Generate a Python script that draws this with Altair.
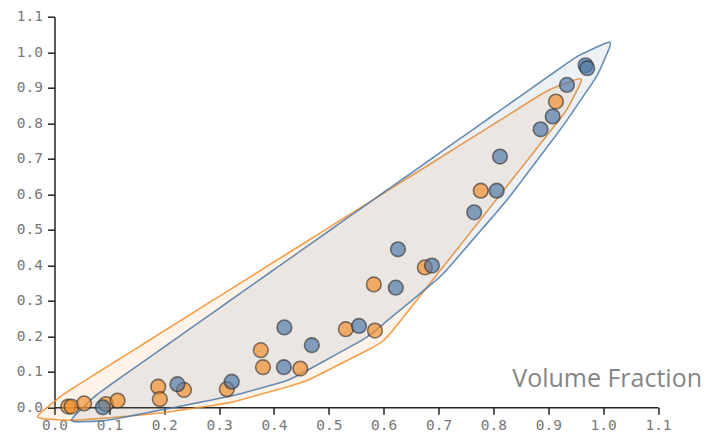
import math
import altair as alt
import pandas as pd

# ---- data ----
orange_x = [0.025, 0.031, 0.054, 0.094, 0.115, 0.189, 0.192, 0.236, 0.314,
            0.376, 0.380, 0.448, 0.531, 0.584, 0.582, 0.675, 0.777, 0.914]
orange_y = [0.002, 0.002, 0.011, 0.009, 0.019, 0.058, 0.023, 0.049, 0.051,
            0.161, 0.113, 0.109, 0.220, 0.216, 0.346, 0.394, 0.610, 0.861]

blue_x = [0.088, 0.224, 0.323, 0.419, 0.418, 0.469, 0.555, 0.622, 0.626,
          0.688, 0.765, 0.806, 0.812, 0.886, 0.908, 0.934, 0.968, 0.971]
blue_y = [0.000, 0.065, 0.072, 0.225, 0.113, 0.175, 0.229, 0.337, 0.445,
          0.399, 0.549, 0.610, 0.706, 0.783, 0.819, 0.908, 0.963, 0.955]

tick_values = [0.0, 0.1, 0.2, 0.3, 0.4, 0.5, 0.6, 0.7, 0.8, 0.9, 1.0, 1.1]

ORANGE = "#f28e2b"
BLUE = "#4e79a7"

W, H = 603.5, 390.6
KX, KY = W / 1.1, H / 1.1   # pixels per data unit
PAD = 14.0                  # outward offset of the hull outline, px
TIP = 2.7 * PAD             # longest reach of a sharp corner, px
MIN_GAP = 6.0               # hull vertices closer than this are merged, px
SEG = 18.0                  # outline edges are split into pieces of this size


def _unit(vx, vy):
    L = math.hypot(vx, vy)
    return (vx / L, vy / L)


def convex_hull_px(xs, ys):
    pts = sorted(set((x * KX, y * KY) for x, y in zip(xs, ys)))

    def cross(o, a, b):
        return (a[0] - o[0]) * (b[1] - o[1]) - (a[1] - o[1]) * (b[0] - o[0])

    lower = []
    for p in pts:
        while len(lower) >= 2 and cross(lower[-2], lower[-1], p) <= 0:
            lower.pop()
        lower.append(p)
    upper = []
    for p in reversed(pts):
        while len(upper) >= 2 and cross(upper[-2], upper[-1], p) <= 0:
            upper.pop()
        upper.append(p)
    hull = lower[:-1] + upper[:-1]
    merged = []
    for p in hull:
        if merged and math.dist(p, merged[-1]) < MIN_GAP:
            q = merged.pop()
            p = ((p[0] + q[0]) / 2, (p[1] + q[1]) / 2)
        merged.append(p)
    if len(merged) > 2 and math.dist(merged[0], merged[-1]) < MIN_GAP:
        q = merged.pop()
        merged[0] = ((merged[0][0] + q[0]) / 2, (merged[0][1] + q[1]) / 2)
    return merged


def outline(xs, ys):
    h = convex_hull_px(xs, ys)
    n = len(h)
    ring = []
    for i in range(n):
        p0, p1, p2 = h[i - 1], h[i], h[(i + 1) % n]
        ea = _unit(p1[0] - p0[0], p1[1] - p0[1])
        eb = _unit(p2[0] - p1[0], p2[1] - p1[1])
        na = (ea[1], -ea[0])
        nb = (eb[1], -eb[0])
        u = (-ea[0], -ea[1])
        v = eb
        cos_t = max(-1.0, min(1.0, u[0] * v[0] + u[1] * v[1]))
        s = math.sin(math.acos(cos_t) / 2)
        bis = _unit(-(u[0] + v[0]), -(u[1] + v[1]))
        if s > 1e-6 and PAD / s <= TIP:
            r = PAD / s
            ring.append((p1[0] + bis[0] * r, p1[1] + bis[1] * r))
        else:
            ring.append((p1[0] + na[0] * PAD, p1[1] + na[1] * PAD))
            ring.append((p1[0] + bis[0] * TIP, p1[1] + bis[1] * TIP))
            ring.append((p1[0] + nb[0] * PAD, p1[1] + nb[1] * PAD))
    dense = []
    m = len(ring)
    for i in range(m):
        a, b = ring[i], ring[(i + 1) % m]
        k = max(1, int(math.ceil(math.dist(a, b) / SEG)))
        for j in range(k):
            t = j / k
            dense.append((a[0] + (b[0] - a[0]) * t, a[1] + (b[1] - a[1]) * t))
    return pd.DataFrame({"x": [p[0] / KX for p in dense],
                         "y": [p[1] / KY for p in dense],
                         "i": list(range(len(dense)))})


pts_orange = pd.DataFrame({"x": orange_x, "y": orange_y})
pts_blue = pd.DataFrame({"x": blue_x, "y": blue_y})

xscale = alt.Scale(domain=[0, 1.1], nice=False, zero=False)
yscale = alt.Scale(domain=[0, 1.1], nice=False, zero=False)

label_style = dict(
    labelFont="DejaVu Sans Mono", labelFontSize=14.5, labelColor="#777777",
    tickColor="#222222", tickWidth=1.5, tickSize=7, domainColor="#222222",
    domainWidth=1.5, grid=False, values=tick_values, format=".1f",
    labelFlush=False,
)

xaxis = alt.Axis(
    title="Volume Fraction", titleFont="Open Sans", titleFontSize=25,
    titleFontWeight="normal", titleColor="#858585", titleX=647, titleY=-21,
    titleAlign="right", titleBaseline="alphabetic", labelPadding=4,
    **label_style,
)
yaxis = alt.Axis(title=None, labelPadding=5, **label_style)


def hull_layer(xs, ys, color):
    return alt.Chart(outline(xs, ys)).mark_line(
        interpolate="basis-closed", stroke=color,
        strokeWidth=1.6, fill=color, fillOpacity=0.1, strokeOpacity=0.85,
    ).encode(
        x=alt.X("x:Q", scale=xscale, axis=xaxis),
        y=alt.Y("y:Q", scale=yscale, axis=yaxis),
        order=alt.Order("i:Q"),
    )


def point_layer(df, color):
    return alt.Chart(df).mark_circle(
        size=215, color=color, fillOpacity=0.68, stroke="#2a2a2a",
        strokeWidth=1.6, strokeOpacity=0.6,
    ).encode(
        x=alt.X("x:Q", scale=xscale, axis=xaxis),
        y=alt.Y("y:Q", scale=yscale, axis=yaxis),
    )


chart = alt.layer(
    hull_layer(orange_x, orange_y, ORANGE),
    hull_layer(blue_x, blue_y, BLUE),
    point_layer(pts_orange, ORANGE),
    point_layer(pts_blue, BLUE),
).properties(
    width=W, height=H,
    autosize=alt.AutoSizeParams(type="none"),
    padding={"left": 46.5, "top": 8.7, "right": 46, "bottom": 31},
).configure_view(stroke=None)

chart.save("out.html", embed_options={"renderer": "svg", "actions": False})
